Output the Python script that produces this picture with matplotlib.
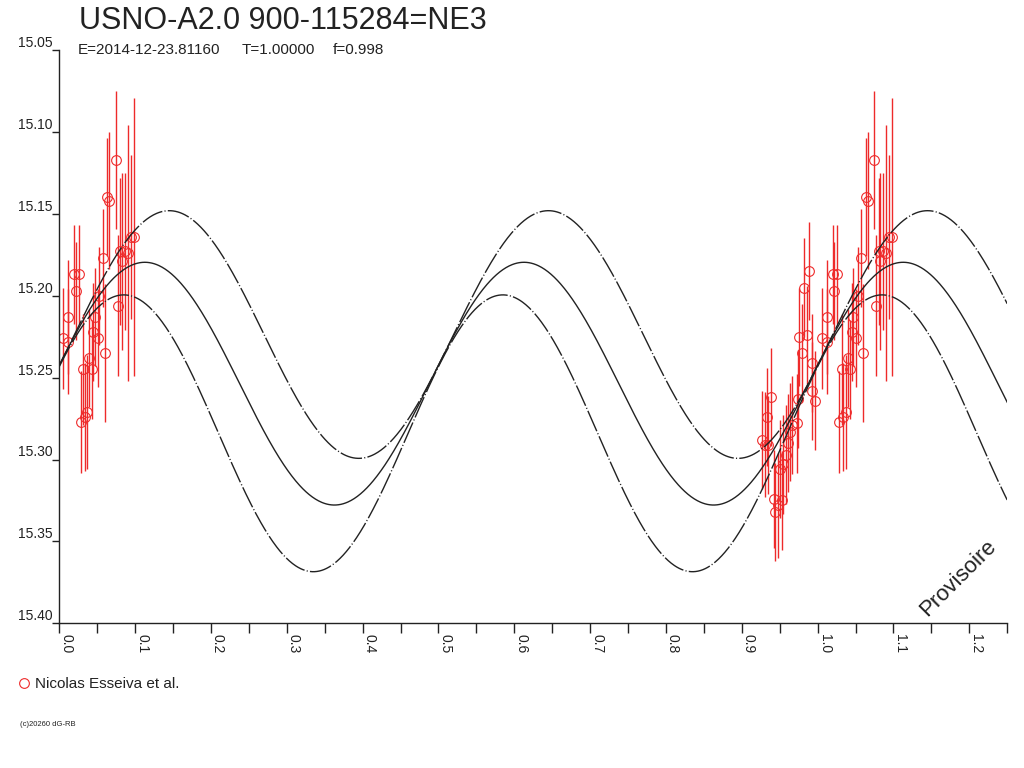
import numpy as np
import matplotlib
matplotlib.use("Agg")
import matplotlib.pyplot as plt
from matplotlib.lines import Line2D
from matplotlib.ticker import MultipleLocator, FormatStrFormatter

plt.rcParams['font.family'] = ['Liberation Sans', 'DejaVu Sans']

# ---------------- data ----------------
phase = [0.0053, 0.0118, 0.0118, 0.0197, 0.0260, 0.0220, 0.0282, 0.0338, 0.0368,
         0.0316, 0.0395, 0.0426, 0.0447, 0.0470, 0.0505, 0.0526, 0.0571, 0.0601,
         0.0632, 0.0658, 0.0742, 0.0776, 0.0803, 0.0821, 0.0864, 0.0900, 0.0943,
         0.0983,
         0.9263, 0.9308, 0.9351, 0.9329, 0.9387, 0.9430, 0.9440, 0.9483, 0.9526,
         0.9505, 0.9549, 0.9579, 0.9605, 0.9637, 0.9658, 0.9724, 0.9746, 0.9759,
         0.9789, 0.9825, 0.9855, 0.9887, 0.9921, 0.9921, 0.9966]
mag = [15.226, 15.228, 15.213, 15.187, 15.187, 15.197, 15.277, 15.274, 15.271,
       15.245, 15.238, 15.245, 15.222, 15.213, 15.226, 15.200, 15.177, 15.235,
       15.140, 15.142, 15.117, 15.206, 15.173, 15.179, 15.173, 15.174, 15.164,
       15.164,
       15.288, 15.291, 15.291, 15.274, 15.262, 15.324, 15.332, 15.328, 15.325,
       15.306, 15.303, 15.297, 15.290, 15.283, 15.279, 15.278, 15.263, 15.225,
       15.235, 15.195, 15.224, 15.185, 15.258, 15.241, 15.264]
err = [0.031, 0.032, 0.035, 0.030, 0.030, 0.030, 0.031, 0.033, 0.035,
       0.034, 0.030, 0.030, 0.030, 0.030, 0.030, 0.030, 0.030, 0.042,
       0.036, 0.042, 0.042, 0.043, 0.045, 0.054, 0.048, 0.078, 0.050,
       0.085,
       0.030, 0.032, 0.030, 0.030, 0.030, 0.030, 0.030, 0.032, 0.030,
       0.030, 0.030, 0.030, 0.030, 0.030, 0.030, 0.030, 0.030, 0.030,
       0.030, 0.030, 0.030, 0.030, 0.030, 0.030, 0.030]

# model curves: mean magnitude, semi-amplitude, phase of maximum light, period
curve_names = ['upper', 'fit', 'lower']
curve_mean = [15.2237, 15.2537, 15.2840]
curve_amp = [0.0756, 0.0741, 0.0845]
curve_peak = [0.145, 0.1128, 0.085]
curve_period = 0.5

title = "USNO-A2.0 900-115284=NE3"
sub_E = "E=2014-12-23.81160"
sub_T = "T=1.00000"
sub_f = "f=0.998"
observer = "Nicolas Esseiva et al."
RED = '#ee2a2a'
DARK = '#222222'

# ---------------- figure ----------------
W, H = 1024, 768
fig = plt.figure(figsize=(W / 100, H / 100), dpi=100)
ax = fig.add_axes([59.3 / W, 1 - 623.3 / H, (1007.2 - 59.3) / W, (623.3 - 50) / H])

ph = np.array(phase)
mg = np.array(mag)
er = np.array(err)
xs = np.concatenate([ph, ph + 1])
ys = np.concatenate([mg, mg])
es = np.concatenate([er, er])
ax.errorbar(xs, ys, yerr=es, fmt='o', mfc='none', mec=RED, ecolor=RED,
            elinewidth=1.0, capsize=0, ms=7, mew=0.8, zorder=2)

t = np.linspace(0, 1.25, 1200)
styles = [(0, (16, 1.6, 0.8, 1.6)), '-', (0, (16, 1.6, 0.8, 1.6))]
for m0, a, p0, ls in zip(curve_mean, curve_amp, curve_peak, styles):
    ax.plot(t, m0 - a * np.cos(2 * np.pi * (t - p0) / curve_period),
            color=DARK, lw=1.0, ls=ls, zorder=3)

ax.set_xlim(0, 1.25)
ax.set_ylim(15.40, 15.05)
for s in ['top', 'right']:
    ax.spines[s].set_visible(False)
for s in ['left', 'bottom']:
    ax.spines[s].set_linewidth(1.0)
    ax.spines[s].set_color('#222222')

ax.yaxis.set_major_locator(MultipleLocator(0.05))
ax.yaxis.set_major_formatter(FormatStrFormatter('%.2f'))
ax.xaxis.set_major_locator(MultipleLocator(0.1))
ax.xaxis.set_minor_locator(MultipleLocator(0.05))
ax.xaxis.set_major_formatter(FormatStrFormatter('%.1f'))

ax.tick_params(axis='y', direction='out', length=5, width=1, pad=0,
               labelsize=10, colors='#222222')
ax.tick_params(axis='x', which='both', direction='out', length=7, width=1,
               pad=1.0, labelsize=10, colors='#222222')
for lab in ax.get_yticklabels():
    lab.set_va('bottom')
for lab in ax.get_xticklabels():
    lab.set_rotation(-90)
    lab.set_ha('left')
    lab.set_va('top')

# ---------------- texts ----------------
fig.text(79 / W, 1 - 29 / H, title, fontsize=22, color='#222222', va='baseline')
fig.text(78 / W, 1 - 54 / H, sub_E, fontsize=11, color='#222222', va='baseline')
fig.text(242 / W, 1 - 54 / H, sub_T, fontsize=11, color='#222222', va='baseline')
fig.text(333 / W, 1 - 54 / H, sub_f, fontsize=11, color='#222222', va='baseline')

fig.add_artist(Line2D([24 / W], [1 - 682.5 / H], transform=fig.transFigure,
                      marker='o', ls='none', mfc='none', mec=RED, ms=7, mew=0.8))
fig.text(35 / W, 1 - 687.5 / H, observer, fontsize=11, color='#222222', va='baseline')
fig.text(20 / W, 1 - 725 / H, "(c)20260 dG-RB", fontsize=5.5, color='#222222', va='center')

fig.text(958 / W, 1 - 578 / H, "Provisoire", fontsize=16, rotation=45,
         ha='center', va='center', color='#222222', rotation_mode='anchor')

fig.savefig("out.png", dpi=100)
